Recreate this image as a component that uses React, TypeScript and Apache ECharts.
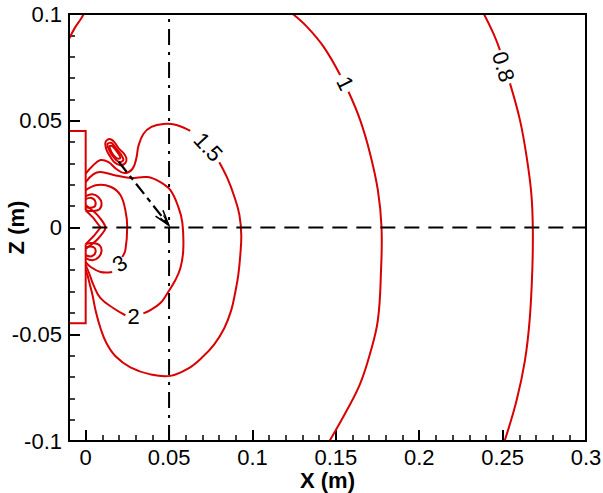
import React, { useEffect, useRef } from "react";
import * as echarts from "echarts";

// ---- axis ticks ----
const xMajor = [0, 0.05, 0.1, 0.15, 0.2, 0.25, 0.3];
const xMinor = [0.01, 0.02, 0.03, 0.04, 0.06, 0.07, 0.08, 0.09, 0.11, 0.12, 0.13, 0.14, 0.16, 0.17, 0.18, 0.19, 0.21, 0.22, 0.23, 0.24, 0.26, 0.27, 0.28, 0.29];
const yMajor = [-0.1, -0.05, 0, 0.05, 0.1];
const yMinor = [-0.09, -0.08, -0.07, -0.06, -0.04, -0.03, -0.02, -0.01, 0.01, 0.02, 0.03, 0.04, 0.06, 0.07, 0.08, 0.09];

// ---- contour lines (x, z) in metres ----
const c15Upper = [[0, 0.0252], [0.0041, 0.0288], [0.0089, 0.0316], [0.0137, 0.0306], [0.0184, 0.0274], [0.0232, 0.0255], [0.028, 0.0274], [0.0304, 0.0325], [0.0316, 0.0381], [0.0346, 0.0438], [0.0394, 0.0471], [0.0466, 0.0485], [0.0544, 0.048], [0.0627, 0.0452]];
const c15Lower = [[0.0801, 0.0306], [0.0849, 0.0232], [0.0892, 0.0143], [0.0922, 0.0058], [0.0933, -0.0036], [0.0927, -0.013], [0.0915, -0.0223], [0.0897, -0.0303], [0.0873, -0.0387], [0.0831, -0.0472], [0.0771, -0.0547], [0.0699, -0.0608], [0.0616, -0.066], [0.0508, -0.0695], [0.0388, -0.0688], [0.0268, -0.0655], [0.0179, -0.0603], [0.0125, -0.0542], [0.0089, -0.0472], [0.0059, -0.0387], [0.0041, -0.0317], [0.0023, -0.0261], [0.0011, -0.0223], [0, -0.02]];
const c2Upper = [[0, 0.0213], [0.0047, 0.025], [0.0089, 0.026], [0.0167, 0.0246], [0.0268, 0.0232], [0.037, 0.0236], [0.0448, 0.0213], [0.0508, 0.0175], [0.0556, 0.0095], [0.058, 0.0021], [0.0585, -0.0106], [0.0568, -0.019], [0.0538, -0.0246], [0.049, -0.0308], [0.0448, -0.0354], [0.0388, -0.0387], [0.0346, -0.0402]];
const c2Lower = [[0.0238, -0.0411], [0.0167, -0.0378], [0.0089, -0.0331], [0.0047, -0.027], [0.0023, -0.0219], [0, -0.0176]];
const c3Upper = [[0, 0.0175], [0.0069, 0.0199], [0.0149, 0.0191], [0.0208, 0.0152], [0.0238, 0.0081], [0.0249, 0.0003], [0.0238, -0.0106], [0.0219, -0.0138]];
const c3Lower = [[0.0159, -0.0208], [0.0089, -0.0208], [0.0029, -0.0184], [0, -0.0162]];
const c1Upper = [[0.1242, 0.1], [0.1326, 0.0941], [0.1426, 0.0847], [0.1526, 0.0714]];
const c1Lower = [[0.1576, 0.0636], [0.1646, 0.0503], [0.1705, 0.0347], [0.1752, 0.0175], [0.1774, 0.0], [0.1771, -0.02], [0.1752, -0.0434], [0.1705, -0.0591], [0.1646, -0.0731], [0.1566, -0.0856], [0.1462, -0.1]];
const c08Upper = [[0.2388, 0.1], [0.2444, 0.091], [0.2484, 0.0831]];
const c08Lower = [[0.2544, 0.0675], [0.2604, 0.0503], [0.2644, 0.0331], [0.2672, 0.016], [0.2681, 0], [0.2678, -0.02], [0.2662, -0.0434], [0.2634, -0.0622], [0.2584, -0.0809], [0.2512, -0.1]];
const cCorner = [[-0.0105, 0.0875], [-0.0065, 0.0935], [-0.003, 0.0975], [-0.0012, 0.1]];
const blobOuter = [[0.0119, 0.04], [0.0143, 0.0414], [0.0172, 0.04], [0.0196, 0.0372], [0.0226, 0.0349], [0.0244, 0.0325], [0.0238, 0.0302], [0.0208, 0.0292], [0.0172, 0.0306], [0.0149, 0.033], [0.0125, 0.0363]];
const blobMid = [[0.0131, 0.0391], [0.0155, 0.0396], [0.0184, 0.0368], [0.0214, 0.0339], [0.0226, 0.0316], [0.0202, 0.0306], [0.0172, 0.0325], [0.0143, 0.0358]];
const blobInner = [[0.0143, 0.0381], [0.016, 0.0381], [0.019, 0.0353], [0.0208, 0.0325], [0.0184, 0.0325], [0.0155, 0.0353]];
const earUpOuter = [[0, 0.0147], [0.0041, 0.0156], [0.0077, 0.0142], [0.0095, 0.0114], [0.0083, 0.0086], [0.0041, 0.0077], [0, 0.0081]];
const earUpInner = [[0, 0.0133], [0.0035, 0.0138], [0.0059, 0.0119], [0.0047, 0.0095], [0, 0.0095]];
const earLoOuter = [[0, -0.0143], [0.0041, -0.0153], [0.0077, -0.0139], [0.0095, -0.0111], [0.0083, -0.0083], [0.0041, -0.0073], [0, -0.0078]];
const earLoInner = [[0, -0.013], [0.0035, -0.0135], [0.0059, -0.0116], [0.0047, -0.0092], [0, -0.0092]];
const vInner = [[0, 0.0081], [0.0047, 0.0044], [0.0089, 0], [0.0047, -0.0041], [0, -0.0078]];
const vOuter = [[0, 0.0105], [0.0071, 0.0058], [0.0119, 0], [0.0071, -0.0055], [0, -0.0101]];
const wallTop = [[-0.01, 0.0452], [0, 0.0452], [0, 0.0081]];
const wallBottom = [[0, -0.0078], [0, -0.0448], [-0.01, -0.0448]];

// ---- reference lines ----
const hLine = [[0.004, 0], [0.3, 0]];
const vLine = [[0.05, -0.1], [0.05, 0.1]];
const arrowSeg = [0.0198, 0.0308, 0.0498, 0.0011];

// ---- contour labels ----
const labelText = ["1.5", "2", "3", "1", "0.8"];
const labelX = [0.0735, 0.0288, 0.0204, 0.1556, 0.2504];
const labelY = [0.0377, -0.0416, -0.0169, 0.0675, 0.0753];
const labelRot = [-0.82, 0.0, 0.6, -1.11, -1.28];

const RED = "#d80000";
const FONT = '"Liberation Sans", Arial, Helvetica, sans-serif';

// drawing list: [points, smoothness, closed]
const CONTOURS: [number[][], number, boolean][] = [
  [c15Upper, 0.4, false], [c15Lower, 0.4, false], [c2Upper, 0.4, false], [c2Lower, 0.4, false],
  [c3Upper, 0.4, false], [c3Lower, 0.4, false], [c1Upper, 0.4, false], [c1Lower, 0.4, false],
  [c08Upper, 0.4, false], [c08Lower, 0.4, false], [cCorner, 0.4, false],
  [blobOuter, 0.35, true], [blobMid, 0.35, true], [blobInner, 0.35, true],
  [earUpOuter, 0.4, false], [earUpInner, 0.4, false], [earLoOuter, 0.4, false], [earLoInner, 0.4, false],
  [vInner, 0, false], [vOuter, 0.2, false], [wallTop, 0, false], [wallBottom, 0, false],
];

export default function App() {
  const ref = useRef<HTMLDivElement>(null);
  useEffect(() => {
    document.body.style.margin = "0";
    const chart = echarts.init(ref.current!, null, { renderer: "svg" });
    const fmt = (v: number) => String(v);
    const option: any = {
      animation: false,
      grid: {
        left: 69,
        right: 17,
        top: 14,
        bottom: 52,
        show: true,
        borderColor: "#000",
        borderWidth: 2,
        backgroundColor: "transparent",
        containLabel: false,
        outerBoundsMode: "none",
        z: 10,
      },
      xAxis: [
        {
          type: "value",
          min: -0.01,
          max: 0.3,
          position: "bottom",
          axisLine: { show: false, onZero: false },
          splitLine: { show: false },
          axisTick: { show: true, inside: true, length: 11, customValues: xMajor, lineStyle: { color: "#000", width: 2 } },
          axisLabel: { customValues: xMajor, formatter: fmt, fontSize: 22, color: "#000", fontFamily: FONT, margin: 5 },
          name: "X (m)",
          nameLocation: "middle",
          nameGap: 28,
          nameMoveOverlap: false,
          nameTextStyle: { fontWeight: "bold", fontSize: 22, color: "#000", fontFamily: FONT },
        },
        {
          type: "value",
          min: -0.01,
          max: 0.3,
          position: "bottom",
          axisLine: { show: false, onZero: false },
          splitLine: { show: false },
          axisTick: { show: true, inside: true, length: 6, customValues: xMinor, lineStyle: { color: "#000", width: 1.5 } },
          axisLabel: { show: false },
        },
      ],
      yAxis: [
        {
          type: "value",
          min: -0.1,
          max: 0.1,
          position: "left",
          axisLine: { show: false, onZero: false },
          splitLine: { show: false },
          axisTick: { show: true, inside: true, length: 11, customValues: yMajor, lineStyle: { color: "#000", width: 2 } },
          axisLabel: { customValues: yMajor, formatter: fmt, fontSize: 22, color: "#000", fontFamily: FONT, margin: 7 },
          name: "Z (m)",
          nameLocation: "middle",
          nameGap: 42,
          nameMoveOverlap: false,
          nameTextStyle: { fontWeight: "bold", fontSize: 22, color: "#000", fontFamily: FONT },
        },
        {
          type: "value",
          min: -0.1,
          max: 0.1,
          position: "left",
          axisLine: { show: false, onZero: false },
          splitLine: { show: false },
          axisTick: { show: true, inside: true, length: 6, customValues: yMinor, lineStyle: { color: "#000", width: 1.5 } },
          axisLabel: { show: false },
        },
      ],
      series: [
        {
          type: "custom",
          silent: true,
          clip: true,
          z: 3,
          data: CONTOURS.map((c, i) => [c[0][0][0], c[0][0][1], i]),
          encode: { x: 0, y: 1 },
          renderItem: (params: any, api: any) => {
            const c = CONTOURS[api.value(2)];
            const pts = c[0].map((p) => api.coord(p));
            return {
              type: c[2] ? "polygon" : "polyline",
              shape: { points: pts, smooth: c[1] },
              style: { stroke: RED, lineWidth: 2, fill: "none" },
            };
          },
        },
        {
          type: "line", data: hLine, showSymbol: false, symbol: "none", silent: true, z: 4,
          lineStyle: { color: "#000", width: 2, type: [15, 9] },
        },
        {
          type: "line", data: vLine, showSymbol: false, symbol: "none", silent: true, z: 4,
          lineStyle: { color: "#000", width: 2, type: [16, 7, 3, 7] },
        },
        {
          type: "custom",
          silent: true,
          z: 5,
          data: [arrowSeg],
          encode: { x: [0, 2], y: [1, 3] },
          renderItem: (params: any, api: any) => {
            const p0 = api.coord([api.value(0), api.value(1)]);
            const p1 = api.coord([api.value(2), api.value(3)]);
            const ang = Math.atan2(p1[1] - p0[1], p1[0] - p0[0]);
            const head = (L: number, a: number) => [
              [p1[0] - L * Math.cos(ang - a), p1[1] - L * Math.sin(ang - a)],
              [p1[0], p1[1]],
              [p1[0] - L * Math.cos(ang + a), p1[1] - L * Math.sin(ang + a)],
            ];
            return {
              type: "group",
              children: [
                { type: "line", shape: { x1: p0[0], y1: p0[1], x2: p1[0], y2: p1[1] }, style: { stroke: "#000", lineWidth: 2.2, lineDash: [13, 5, 5, 5] } },
                { type: "polyline", shape: { points: head(16, 0.3) }, style: { stroke: "#000", fill: "none", lineWidth: 1.6 } },
                { type: "polyline", shape: { points: head(11, 0.18) }, style: { stroke: "#000", fill: "none", lineWidth: 1.3 } },
              ],
            };
          },
        },
        {
          type: "custom",
          silent: true,
          z: 6,
          data: labelText.map((_, i) => [labelX[i], labelY[i], i]),
          encode: { x: 0, y: 1 },
          renderItem: (params: any, api: any) => {
            const p = api.coord([api.value(0), api.value(1)]);
            const i = api.value(2);
            return {
              type: "text",
              x: p[0],
              y: p[1],
              rotation: labelRot[i],
              style: {
                text: labelText[i],
                fontSize: 22,
                fontFamily: FONT,
                fill: "#000",
                align: "center",
                verticalAlign: "middle",
              },
            };
          },
        },
      ],
    };
    chart.setOption(option);
    return () => chart.dispose();
  }, []);
  return <div ref={ref} style={{ width: 603, height: 493 }} />;
}
